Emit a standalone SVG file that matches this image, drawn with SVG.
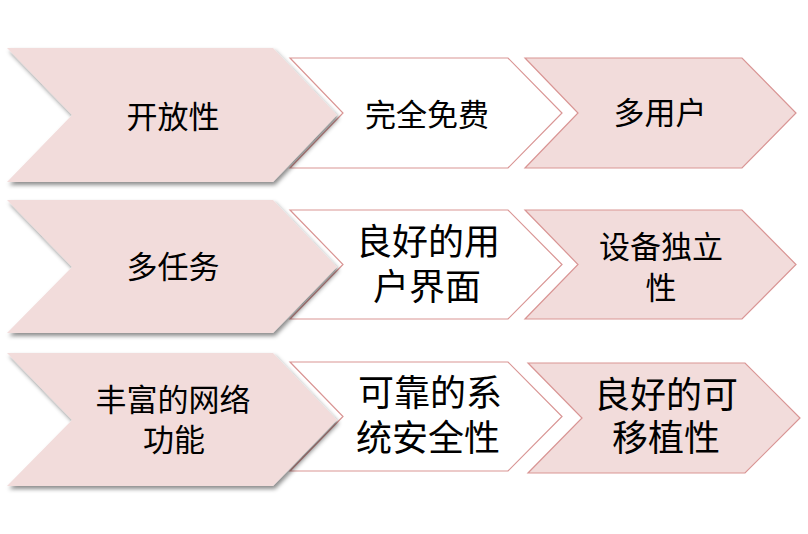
<svg xmlns="http://www.w3.org/2000/svg" width="808" height="534" viewBox="0 0 808 534">
<defs>
<filter id="sh" x="-10%" y="-10%" width="130%" height="130%">
<feDropShadow dx="2" dy="3" stdDeviation="2" flood-color="#000" flood-opacity="0.45"/>
</filter>
<style>
.big{fill:#F2DCDB;filter:url(#sh)}
.mid{fill:#FFFFFF;stroke:#D99594;stroke-width:1.2}
.rgt{fill:#F2DCDB;stroke:#D99594;stroke-width:1.2}
text{font-family:"Noto Sans CJK SC","Noto Sans CJK JP",sans-serif;fill:#000;text-anchor:middle}
.s32{font-size:31px}
.s37{font-size:36px}
</style>
</defs>
<rect width="808" height="534" fill="#FFFFFF"/>
<g id="connectors"/>
<g id="row1-mid"><polygon class="mid" points="290,58 508,58 562,113 508,168 290,168 343,113"/><text class="s32" x="427" y="126">完全免费</text></g>
<g id="row1-right"><polygon class="rgt" points="525,58 742,58 796,113 742,168 525,168 578,113"/><text class="s32" x="660" y="124">多用户</text></g>
<g id="row1-big"><polygon class="big" points="7,48 273,48 337,115 273,182 7,182 72,115"/><text class="s32" x="173" y="128">开放性</text></g>

<g id="row2-mid"><polygon class="mid" points="290,210 508,210 562,264.5 508,319 290,319 343,264.5"/><text class="s37" x="428" y="255">良好的用</text><text class="s37" x="427" y="300">户界面</text></g>
<g id="row2-right"><polygon class="rgt" points="525,210 742,210 796,264.5 742,319 525,319 578,264.5"/><text class="s32" x="661" y="258">设备独立</text><text class="s32" x="661" y="299">性</text></g>
<g id="row2-big"><polygon class="big" points="7,200 273,200 337,267 273,333 7,333 72,267"/><text class="s32" x="173" y="278">多任务</text></g>

<g id="row3-mid"><polygon class="mid" points="290,362 508,362 562,416.5 508,471 290,471 343,416.5"/><text class="s37" x="430" y="406">可靠的系</text><text class="s37" x="428" y="451">统安全性</text></g>
<g id="row3-right"><polygon class="rgt" points="528,363 745,363 800,418 745,473 528,473 582,418"/><text class="s37" x="666" y="408">良好的可</text><text class="s37" x="666" y="451">移植性</text></g>
<g id="row3-big"><polygon class="big" points="7,353 273,353 337,420 273,486 7,486 72,420"/><text class="s32" x="173" y="411">丰富的网络</text><text class="s32" x="174" y="451">功能</text></g>
</svg>
